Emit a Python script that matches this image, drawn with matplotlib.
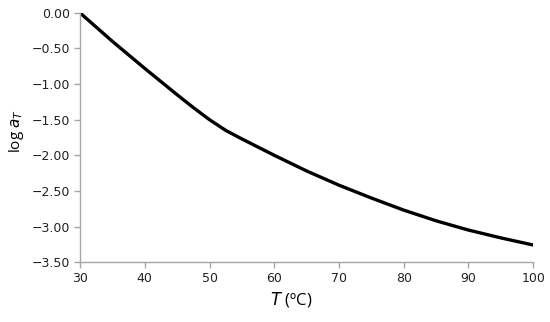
import matplotlib
matplotlib.use("Agg")
import matplotlib.pyplot as plt
from matplotlib.ticker import FuncFormatter, MultipleLocator

# shift factor vs temperature
temp_c = [30, 35, 40, 45, 47.5, 50, 52.5, 55, 60, 65, 70, 75, 80, 85, 90, 95, 100]
log_aT = [0.00, -0.40, -0.78, -1.15, -1.33, -1.50, -1.65, -1.77, -2.00, -2.22,
          -2.42, -2.60, -2.77, -2.92, -3.05, -3.16, -3.26]

AXIS_GRAY = "#a6a6a6"

fig = plt.figure(figsize=(5.5, 3.22), dpi=100)
ax = fig.add_axes([0.1455, 0.186, 0.824, 0.774])

ax.plot(temp_c, log_aT, color="black", lw=2.4, solid_capstyle="butt",
        solid_joinstyle="round")

ax.set_xlim(30, 100)
ax.set_ylim(-3.5, 0)
ax.xaxis.set_major_locator(MultipleLocator(10))
ax.yaxis.set_major_locator(MultipleLocator(0.5))
ax.yaxis.set_major_formatter(FuncFormatter(lambda v, p: f"{v:.2f}".replace("-", "\u2212")))

for s in ("top", "right"):
    ax.spines[s].set_visible(False)
for s in ("left", "bottom"):
    ax.spines[s].set_color(AXIS_GRAY)
    ax.spines[s].set_linewidth(1.0)
ax.tick_params(axis="both", colors=AXIS_GRAY, length=4, width=1.0,
               labelsize=9, labelcolor="#222222", pad=3)

ax.set_xlabel(r"$T$ (ºC)", fontsize=12, family="Open Sans")
ax.set_ylabel(r"log $a_T$", fontsize=11, family="Open Sans")
ax.xaxis.set_label_coords(0.466, -0.11)
ax.yaxis.set_label_coords(-0.12, 0.525)

fig.savefig("out.png", dpi=100)
